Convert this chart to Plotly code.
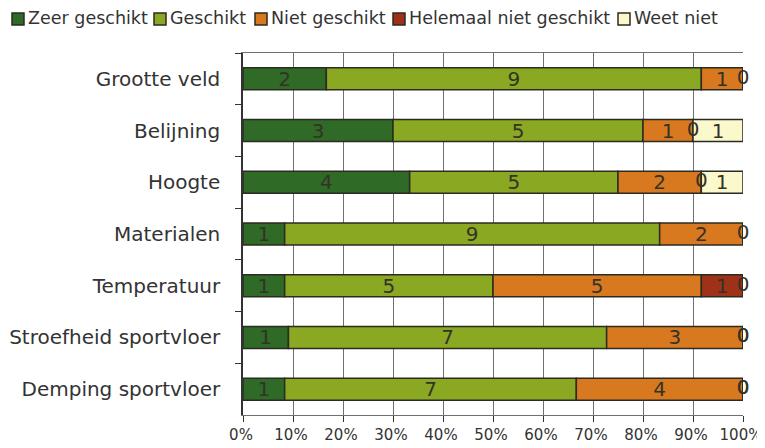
"""Stacked 100% bar chart: geschiktheid van sportvloer-aspecten."""

import plotly.graph_objects as go

categories = [
    "Grootte veld",
    "Belijning",
    "Hoogte",
    "Materialen",
    "Temperatuur",
    "Stroefheid sportvloer",
    "Demping sportvloer",
]
series_names = ["Zeer geschikt", "Geschikt", "Niet geschikt", "Helemaal niet geschikt", "Weet niet"]
zeer_geschikt = [2, 3, 4, 1, 1, 1, 1]
geschikt = [9, 5, 5, 9, 5, 7, 7]
niet_geschikt = [1, 1, 2, 2, 5, 3, 4]
helemaal_niet = [0, 0, 0, 0, 1, 0, 0]
weet_niet = [None, 1, 1, None, 0, 0, 0]
tick_labels = ["0%", "10%", "20%", "30%", "40%", "50%", "60%", "70%", "80%", "90%", "100%"]

colors = ["#2f6a26", "#8aa822", "#d9791f", "#9e3118", "#fbf8cc"]
series = [zeer_geschikt, geschikt, niet_geschikt, helemaal_niet, weet_niet]

FONT = "DejaVu Sans, Verdana, sans-serif"
TEXT_COL = "#333328"
OUTLINE = "#2b2b22"

# the page body adds an 8px margin, so the figure is 8px smaller
W, H = 757, 440
ML, MR, MT, MB = 235, 22, 45, 33
PW, PH = W - ML - MR, H - MT - MB

totals = [sum(v or 0 for v in row) for row in zip(*series)]

fig = go.Figure()
cum = [0.0] * len(categories)
zero_x, zero_y = [], []
for name, vals, col in zip(series_names, series, colors):
    pct = [100.0 * (v or 0) / t for v, t in zip(vals, totals)]
    fig.add_trace(
        go.Bar(
            y=categories,
            x=pct,
            base=cum,
            orientation="h",
            name=name,
            marker=dict(color=col, line=dict(color=OUTLINE, width=1.5)),
            text=[str(v) if v else "" for v in vals],
            textposition="inside",
            insidetextanchor="middle",
            textangle=0,
            constraintext="none",
            textfont=dict(family=FONT, size=20, color=TEXT_COL),
            hoverinfo="skip",
            showlegend=False,
        )
    )
    for i, v in enumerate(vals):
        if v == 0:
            zero_x.append(cum[i])
            zero_y.append(categories[i])
    cum = [c + p for c, p in zip(cum, pct)]

# labels for zero-width segments
fig.add_trace(
    go.Scatter(
        x=zero_x,
        y=zero_y,
        mode="text",
        text=["0"] * len(zero_x),
        textposition="middle center",
        textfont=dict(family=FONT, size=20, color=TEXT_COL),
        showlegend=False,
        hoverinfo="skip",
        cliponaxis=False,
    )
)

# legend row drawn by hand (squares + labels), left edges in figure pixels
legend_x = [4, 146, 247, 385, 610]
legend_yc = 11
sq = 12


def px_x(p):
    return (p - ML) / PW


def px_y(p):
    return 1 - (p - MT) / PH


for lx, name, col in zip(legend_x, series_names, colors):
    fig.add_shape(
        type="rect",
        xref="paper",
        yref="paper",
        x0=px_x(lx),
        x1=px_x(lx + sq),
        y0=px_y(legend_yc + sq / 2),
        y1=px_y(legend_yc - sq / 2),
        fillcolor=col,
        line=dict(color=OUTLINE, width=1.5),
    )
    fig.add_annotation(
        xref="paper",
        yref="paper",
        x=px_x(lx + sq + 2),
        y=px_y(legend_yc - 1),
        text=name,
        showarrow=False,
        xanchor="left",
        yanchor="middle",
        font=dict(family=FONT, size=17.5, color="#333333"),
    )

fig.update_layout(
    barmode="overlay",
    bargap=0.575,
    width=W,
    height=H,
    margin=dict(l=ML, r=MR, t=MT, b=MB, autoexpand=False),
    paper_bgcolor="white",
    plot_bgcolor="white",
    font=dict(family=FONT, size=16, color="#333333"),
    showlegend=False,
    xaxis=dict(
        range=[0, 100],
        tickvals=[i * 10 for i in range(11)],
        ticktext=tick_labels,
        showgrid=True,
        gridcolor="#707070",
        gridwidth=1,
        zeroline=False,
        showline=True,
        linecolor="#707070",
        mirror=True,
        ticks="outside",
        ticklen=6,
        tickcolor="#333333",
        tickfont=dict(size=15),
        ticklabeloverflow="allow",
        ticklabelshift=-2,
    ),
    yaxis=dict(
        autorange="reversed",
        showgrid=False,
        zeroline=False,
        showline=True,
        linecolor="#333333",
        linewidth=1.5,
        ticks="outside",
        tickson="boundaries",
        ticklen=6,
        tickcolor="#333333",
        tickfont=dict(size=20),
        ticklabelstandoff=17,
    ),
)

fig.write_html("out.html")
